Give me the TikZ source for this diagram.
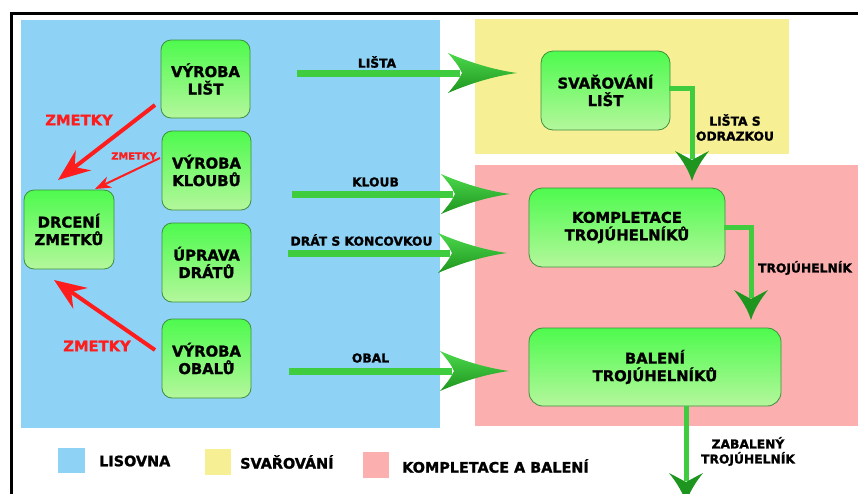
\documentclass[tikz,border=0pt]{standalone}
\usepackage{fontspec}
\setmainfont{DejaVu Sans}[BoldFeatures={FakeBold=1.4}]
\usetikzlibrary{arrows.meta,calc}
\definecolor{lisblue}{HTML}{8ED3F5}
\definecolor{svayel}{HTML}{F7EF94}
\definecolor{kompink}{HTML}{FCAFAF}
\definecolor{gtop}{HTML}{4EFA4E}
\definecolor{gbot}{HTML}{B4F79C}
\definecolor{gborder}{HTML}{3E8F3E}
\definecolor{garrow}{HTML}{3FCC3F}
\definecolor{glight}{HTML}{4CD84C}
\definecolor{gdark}{HTML}{1E951E}
\definecolor{zred}{HTML}{FF1C1C}
\tikzset{
  proc/.style={draw=gborder, line width=0.8pt, rounded corners=10pt, top color=gtop, bottom color=gbot, align=center, inner sep=0pt, font=\bfseries\fontsize{14.8}{17.5}\selectfont},
  lab/.style={font=\bfseries\fontsize{12.3}{15}\selectfont, align=center, inner sep=0pt},
  redlab/.style={text=zred, font=\bfseries\fontsize{14.7}{17}\selectfont, inner sep=0pt},
  redsmall/.style={text=zred, font=\bfseries\fontsize{9.9}{12}\selectfont, inner sep=0pt},
  legtext/.style={font=\bfseries\fontsize{14.4}{17}\selectfont, anchor=west, inner sep=0pt},
  gshaft/.style={draw=garrow, line width=7pt},
  vshaft/.style={draw=garrow, line width=5pt},
  redbig/.style={draw=zred, line width=4pt, -{Stealth[length=32pt,width=25pt,inset=11pt]}},
  redthin/.style={draw=zred, line width=2pt, -{Stealth[length=16pt,width=12pt,inset=5pt]}},
  hhead/.pic={\shade[top color=glight, bottom color=gdark] (0,0) .. controls (-22,-3) and (-46,-10) .. (-69,-20) .. controls (-63,-13) and (-58,-7) .. (-55,0) .. controls (-58,7) and (-63,13) .. (-69,20) .. controls (-46,10) and (-22,3) .. (0,0) -- cycle;},
  vhead/.pic={\fill[gdark] (0,0) .. controls (-10,-3) and (-20,-9) .. (-30,-17) .. controls (-26,-9) and (-23,-4) .. (-21,0) .. controls (-23,4) and (-26,9) .. (-30,17) .. controls (-20,9) and (-10,3) .. (0,0) -- cycle;},
}
\begin{document}
\begin{tikzpicture}[x=1pt,y=-1pt]
\useasboundingbox (0,0) rectangle (858,493);
\fill[white] (0,0) rectangle (858,493);
% regions
\fill[lisblue] (21,20) rectangle (440,428);
\fill[svayel] (475,19) rectangle (789,154);
\fill[kompink] (475,165) rectangle (858,426);
% frame
\draw[black, line width=3pt] (11,13) rectangle (875,510);
% boxes
\node[proc, minimum width=89pt, minimum height=78pt] (vl) at (205.5,79) {VÝROBA\\LIŠT};
\node[proc, minimum width=89pt, minimum height=79pt] (vk) at (206.5,170.5) {VÝROBA\\KLOUBŮ};
\node[proc, minimum width=89pt, minimum height=79pt] (ud) at (206.5,262.5) {ÚPRAVA\\DRÁTŮ};
\node[proc, minimum width=89pt, minimum height=79pt] (vo) at (206.5,358.5) {VÝROBA\\OBALŮ};
\node[proc, minimum width=90pt, minimum height=79pt] (dz) at (69,229.5) {DRCENÍ\\ZMETKŮ};
\node[proc, minimum width=129pt, minimum height=79pt, rounded corners=12pt] (sv) at (605.5,90.5) {SVAŘOVÁNÍ\\LIŠT};
\node[proc, minimum width=196pt, minimum height=79pt, rounded corners=13pt] (kt) at (627,227.5) {KOMPLETACE\\TROJÚHELNÍKŮ};
\node[proc, minimum width=252pt, minimum height=78pt, rounded corners=14pt] (bt) at (655,367) {BALENÍ\\TROJÚHELNÍKŮ};
% horizontal green arrows
\coordinate (a1s) at (297,73); \coordinate (a1t) at (517,73);
\coordinate (a2s) at (292,194); \coordinate (a2t) at (510,194);
\coordinate (a3s) at (288,253); \coordinate (a3t) at (507,253);
\coordinate (a4s) at (289,371); \coordinate (a4t) at (509,371);
\draw[gshaft] (a1s) -- ($(a1t)+(-57,0)$); \pic at (a1t) {hhead};
\draw[gshaft] (a2s) -- ($(a2t)+(-57,0)$); \pic at (a2t) {hhead};
\draw[gshaft] (a3s) -- ($(a3t)+(-57,0)$); \pic at (a3t) {hhead};
\draw[gshaft] (a4s) -- ($(a4t)+(-57,0)$); \pic at (a4t) {hhead};
\node[lab] (l1) at (377,62) {LIŠTA};
\node[lab] (l2) at (375.5,182) {KLOUB};
\node[lab] (l3) at (361.5,240) {DRÁT S KONCOVKOU};
\node[lab] (l4) at (370.5,358) {OBAL};
% vertical green arrows
\coordinate (b1t) at (692,181);
\coordinate (b2t) at (751,320);
\coordinate (b3t) at (686,503);
\draw[vshaft] ($(sv.east)+(-1,-2.5)$) -| ($(b1t)+(0,-22)$); \pic[rotate=-90] at (b1t) {vhead};
\draw[vshaft] ($(kt.east)+(-1,0)$) -| ($(b2t)+(0,-22)$); \pic[rotate=-90] at (b2t) {vhead};
\draw[vshaft] (bt.south -| b3t) -- ($(b3t)+(0,-22)$); \pic[rotate=-90] at (b3t) {vhead};
\node[lab] (l5) at (735,127.5) {LIŠTA S\\ODRAZKOU};
\node[lab] (l6) at (805,268) {TROJÚHELNÍK};
\node[lab] (l7) at (748,451.5) {ZABALENÝ\\TROJÚHELNÍK};
% red arrows
\coordinate (r1s) at (155,105); \coordinate (r1t) at (58,180);
\coordinate (r2s) at (160,158); \coordinate (r2t) at (95,189);
\coordinate (r3s) at (155,350); \coordinate (r3t) at (54,280);
\draw[redbig] (r1s) -- (r1t);
\draw[redthin] (r2s) -- (r2t);
\draw[redbig] (r3s) -- (r3t);
\node[redlab] (z1) at (79,120) {ZMETKY};
\node[redsmall] (z2) at (134,156) {ZMETKY};
\node[redlab] (z3) at (97,346) {ZMETKY};
% legend
\fill[lisblue] (58,448) rectangle (85,473);
\fill[svayel] (205,449) rectangle (231,475);
\fill[kompink] (363,452) rectangle (389,478);
\node[legtext] (t1) at (99,461) {LISOVNA};
\node[legtext] (t2) at (240,462) {SVAŘOVÁNÍ};
\node[legtext] (t3) at (402,466) {KOMPLETACE A BALENÍ};
\end{tikzpicture}
\end{document}
